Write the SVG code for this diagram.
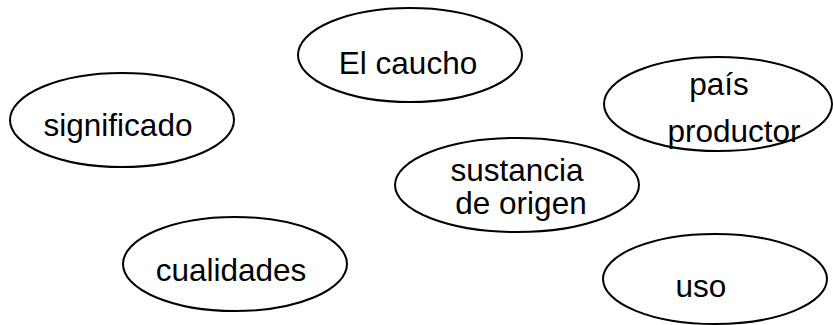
<svg xmlns="http://www.w3.org/2000/svg" width="833" height="325" viewBox="0 0 833 325">
<style>
.n{fill:#fff;stroke:#000;stroke-width:2}
.t{font-family:"Liberation Sans",Arial,sans-serif;font-size:31.5px;fill:#000}
</style>
<rect width="833" height="325" fill="#fff"/>
<g id="connectors"></g>
<g id="caucho"><ellipse class="n" cx="410" cy="55" rx="112" ry="47"/><text class="t" x="408" y="74" text-anchor="middle">El caucho</text></g>
<g id="significado"><ellipse class="n" cx="122" cy="120" rx="112" ry="47"/><text class="t" x="118" y="136" text-anchor="middle">significado</text></g>
<g id="pais"><ellipse class="n" cx="718" cy="104" rx="114" ry="47"/><text class="t" x="719" y="95" text-anchor="middle">país</text><text class="t" x="734" y="142" text-anchor="middle">productor</text></g>
<g id="sustancia"><ellipse class="n" cx="517" cy="185" rx="122" ry="47"/><text class="t" x="517" y="181" text-anchor="middle">sustancia</text><text class="t" x="521" y="214" text-anchor="middle">de origen</text></g>
<g id="cualidades"><ellipse class="n" cx="235" cy="264" rx="112" ry="47"/><text class="t" x="231" y="281" text-anchor="middle">cualidades</text></g>
<g id="uso"><ellipse class="n" cx="715" cy="279" rx="112" ry="45"/><text class="t" x="701" y="297" text-anchor="middle">uso</text></g>
</svg>
